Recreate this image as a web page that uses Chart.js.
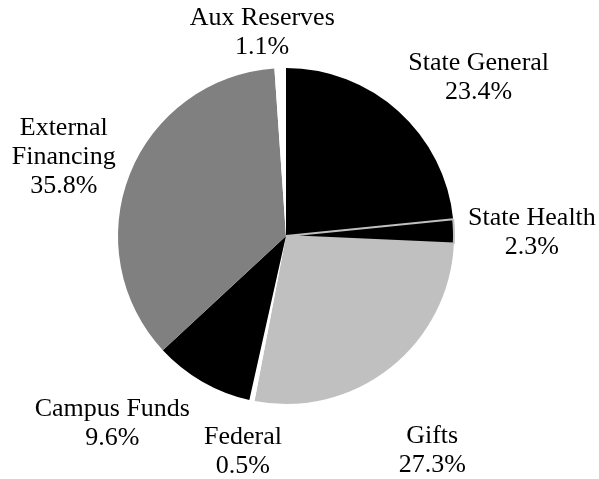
<!DOCTYPE html>
<html>
<head>
<meta charset="utf-8">
<script src="https://cdn.jsdelivr.net/npm/chart.js@4/dist/chart.umd.min.js"></script>
<style>
	body { margin: 0; background: #ffffff; }
	#wrap { width: 599px; height: 479px; }
</style>
</head>
<body>
<div id="wrap"><canvas id="fundingPie" width="599" height="479"></canvas></div>
<script>

// data, clockwise from 12 o'clock
var sourceLabels = [
	"State General",
	"State Health",
	"Gifts",
	"Federal",
	"Campus Funds",
	["External", "Financing"],
	"Aux Reserves"
];
var sourceShares = [23.4, 2.3, 27.3, 0.5, 9.6, 35.8, 1.1];

// styling
var sliceColors = ["#000000", "#000000", "#c0c0c0", "#ffffff", "#000000", "#808080", "#ffffff"];
var sliceBorders = [0, 2, 0, 0, 0, 0, 0];
var sliceBorderColors = ["#ffffff", "#c0c0c0", "#ffffff", "#ffffff", "#ffffff", "#ffffff", "#ffffff"];
// label block offset from the slice's outer edge midpoint
var labelNudge = [[80, -34], [78, 1], [42, 83], [-9, 51], [-90, 42], [-66, -17], [-18, -35]];

var outsideLabels = {
	id: 'outsideLabels',
	afterDatasetsDraw: function(chart){
		var ctx = chart.ctx;
		var meta = chart.getDatasetMeta(0);
		ctx.save();
		ctx.font = '26px "Liberation Serif", "Times New Roman", serif';
		ctx.fillStyle = '#000000';
		ctx.textAlign = 'center';
		ctx.textBaseline = 'middle';
		meta.data.forEach(function(arc, i){
			var p = arc.getProps(['x', 'y', 'startAngle', 'endAngle', 'outerRadius'], true);
			var mid = (p.startAngle + p.endAngle) / 2;
			var ex = p.x + Math.cos(mid) * p.outerRadius;
			var ey = p.y + Math.sin(mid) * p.outerRadius;
			var lbl = chart.data.labels[i];
			var lines = (Array.isArray(lbl) ? lbl.slice() : [lbl]);
			lines.push(chart.data.datasets[0].data[i].toFixed(1) + '%');
			var lh = 29;
			var cx = ex + labelNudge[i][0];
			var cy = ey + labelNudge[i][1] - (lines.length - 1) * lh / 2;
			lines.forEach(function(t, k){
				ctx.fillText(t, cx, cy + k * lh);
			});
		});
		ctx.restore();
	}
};

var chart_pie = new Chart(document.getElementById('fundingPie'), {
	type: 'pie',
	data: {
		labels: sourceLabels,
		datasets: [{
			data: sourceShares,
			backgroundColor: sliceColors,
			borderWidth: sliceBorders,
			borderColor: sliceBorderColors
		}]
	},
	options: {
		responsive: false,
		animation: false,
		layout: { padding: { left: 117, right: 144, top: 67, bottom: 74 } },
		plugins: {
			legend: { display: false },
			tooltip: { enabled: false }
		}
	},
	plugins: [outsideLabels]
});

</script>
</body>
</html>
